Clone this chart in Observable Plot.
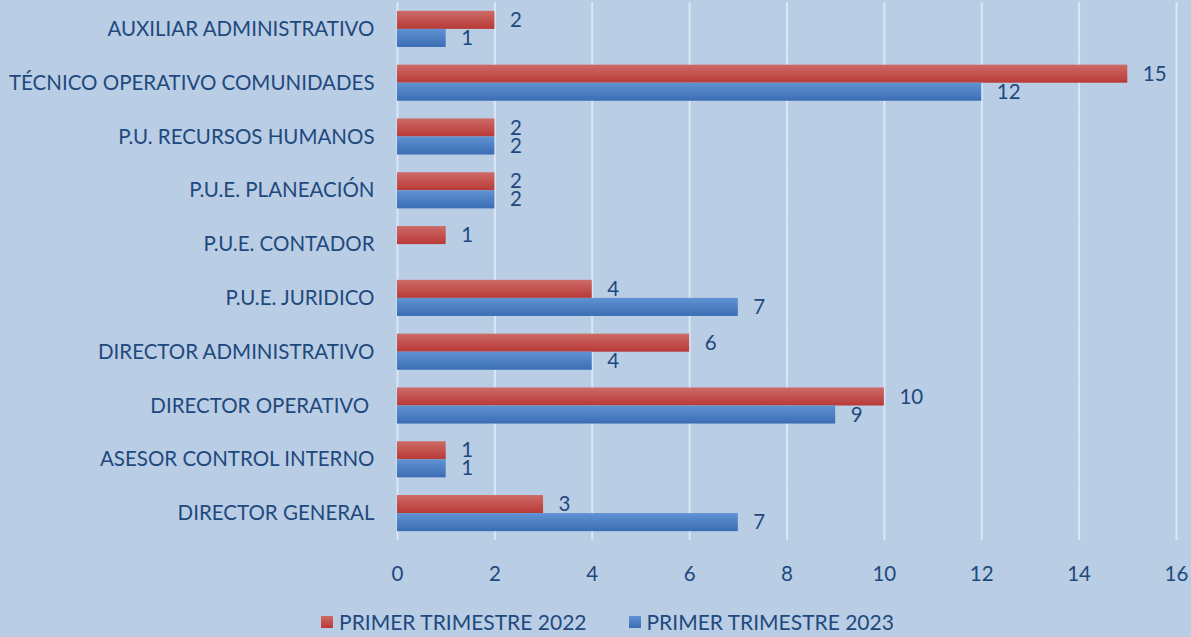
<!DOCTYPE html>
<html><head><meta charset="utf-8">
<script src="https://cdn.jsdelivr.net/npm/d3@7"></script>
<script src="https://cdn.jsdelivr.net/npm/@observablehq/plot@0.6"></script>
<style>
html,body{margin:0;padding:0;background:#b9cde5;}
body{width:1191px;height:637px;overflow:hidden;font-family:Lato,"Open Sans",sans-serif;color:#1f497d;}
#legend{height:37px;display:flex;justify-content:center;align-items:center;font-size:21px;gap:42px;padding-left:24px;padding-top:6px;box-sizing:border-box;}
#legend .item{display:flex;align-items:center;gap:6px;}
#legend .sw{width:12px;height:12px;display:inline-block;}
</style></head><body>
<div id="chart"></div>
<div id="legend"></div>
<script>
const categories = [
  "AUXILIAR ADMINISTRATIVO",
  "TÉCNICO OPERATIVO COMUNIDADES",
  "P.U. RECURSOS HUMANOS",
  "P.U.E. PLANEACIÓN",
  "P.U.E. CONTADOR",
  "P.U.E. JURIDICO",
  "DIRECTOR ADMINISTRATIVO",
  "DIRECTOR OPERATIVO ",
  "ASESOR CONTROL INTERNO",
  "DIRECTOR GENERAL"
];
const seriesNames = ["PRIMER TRIMESTRE 2022", "PRIMER TRIMESTRE 2023"];
const values2022 = [2, 15, 2, 2, 1, 4, 6, 10, 1, 3];
const values2023 = [1, 12, 2, 2, null, 7, 4, 9, 1, 7];
const xTicks = [0, 2, 4, 6, 8, 10, 12, 14, 16];
const seriesColors = [
  {id: "gRed", top: "#cd6a67", bottom: "#b83a37"},
  {id: "gBlue", top: "#6093d3", bottom: "#3b6db4"}
];

const rows = [];
categories.forEach((c, i) => {
  if (values2022[i] != null) rows.push({cat: c, series: seriesNames[0], value: values2022[i]});
  if (values2023[i] != null) rows.push({cat: c, series: seriesNames[1], value: values2023[i]});
});
const r2022 = rows.filter(d => d.series === seriesNames[0]);
const r2023 = rows.filter(d => d.series === seriesNames[1]);

const font = "Lato, 'Open Sans', sans-serif";
const plot = Plot.plot({
  width: 1191,
  height: 600,
  marginLeft: 397,
  marginRight: 15,
  marginTop: 2,
  marginBottom: 60,
  style: {background: "#b9cde5", color: "#1f497d", fontFamily: font, fontSize: "20.5px"},
  x: {domain: [0, 16]},
  y: {domain: seriesNames, axis: null, paddingInner: 0, paddingOuter: 0.49, round: false},
  fy: {domain: categories, padding: 0, round: false},
  marks: [
    Plot.gridX(xTicks, {stroke: "#dde7f3", strokeOpacity: 1, strokeWidth: 2}),
    Plot.barX(r2022, {x: "value", y: "series", fy: "cat", fill: "url(#gRed)"}),
    Plot.barX(r2023, {x: "value", y: "series", fy: "cat", fill: "url(#gBlue)"}),
    Plot.text(rows, {x: "value", y: "series", fy: "cat", text: d => String(d.value), textAnchor: "start", dx: 15, fill: "#1f497d", fontSize: 20.5}),
    Plot.axisX({ticks: xTicks, tickSize: 0, tickPadding: 26, label: null, fontSize: 20.5}),
    Plot.axisFy({tickSize: 0, tickPadding: 23, label: null, fontSize: 20.5, anchor: "left"})
  ]
});
const defs = d3.select(plot).insert("defs", ":first-child");
seriesColors.forEach(s => {
  const g = defs.append("linearGradient").attr("id", s.id).attr("x1", 0).attr("y1", 0).attr("x2", 0).attr("y2", 1);
  g.append("stop").attr("offset", "0%").attr("stop-color", s.top);
  g.append("stop").attr("offset", "100%").attr("stop-color", s.bottom);
});
document.getElementById("chart").append(plot);

const legend = d3.select("#legend");
seriesNames.forEach((name, i) => {
  const it = legend.append("div").attr("class", "item");
  it.append("span").attr("class", "sw").style("background", `linear-gradient(${seriesColors[i].top}, ${seriesColors[i].bottom})`);
  it.append("span").text(name);
});
</script>
</body></html>
